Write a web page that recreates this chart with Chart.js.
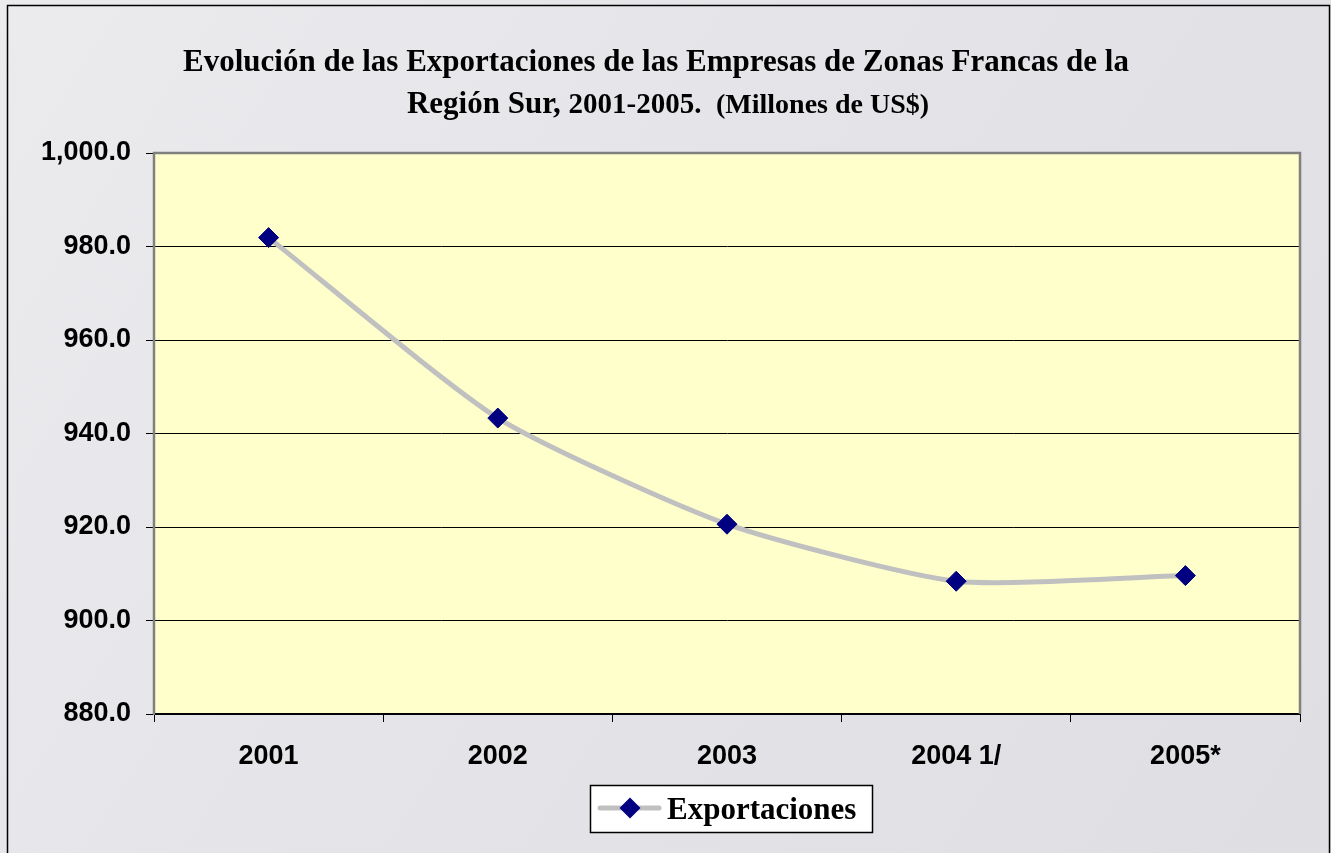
<!DOCTYPE html>
<html>
<head>
<meta charset="utf-8">
<script src="https://cdn.jsdelivr.net/npm/chart.js@4/dist/chart.umd.min.js"></script>
<style>
html,body{margin:0;padding:0;background:#e4e4e8;}
#wrap{width:1331px;height:853px;position:relative;}
</style>
</head>
<body>
<div id="wrap"><canvas id="c" width="1331" height="853"></canvas></div>
<script>
const categories = ['2001', '2002', '2003', '2004 1/', '2005*'];
const exportaciones = [981.9, 943.3, 920.6, 908.4, 909.6];
const seriesName = 'Exportaciones';
const yMin = 880, yMax = 1000, yStep = 20;
const titleLine1 = 'Evolución de las Exportaciones de las Empresas de Zonas Francas de la';
const titleLine2 = [['Región Sur, ', 31], ['2001-2005.  ', 29], ['(Millones de US$)', 28]];

const SERIF = '"Liberation Serif", "Times New Roman", serif';
const SANS = '"Liberation Sans", Arial, sans-serif';

const decorPlugin = {
  id: 'decor',
  beforeDraw(chart) {
    const ctx = chart.ctx;
    ctx.save();
    const g = ctx.createLinearGradient(0, 0, 1331, 853);
    g.addColorStop(0, '#ebebee');
    g.addColorStop(0.5, '#e4e4e8');
    g.addColorStop(1, '#dfdfe3');
    ctx.fillStyle = g;
    ctx.fillRect(0, 0, 1331, 853);
    ctx.strokeStyle = '#000';
    ctx.lineWidth = 1.5;
    ctx.strokeRect(7.5, 5.5, 1322, 852);
    const a = chart.chartArea;
    ctx.fillStyle = '#FFFFCC';
    ctx.fillRect(a.left, a.top, a.right - a.left, a.bottom - a.top);
    ctx.restore();
  },
  afterDraw(chart) {
    const ctx = chart.ctx;
    const a = chart.chartArea;
    ctx.save();
    ctx.strokeStyle = '#808080';
    ctx.lineWidth = 2.5;
    ctx.beginPath();
    ctx.moveTo(a.left, a.bottom);
    ctx.lineTo(a.left, a.top);
    ctx.lineTo(a.right, a.top);
    ctx.lineTo(a.right, a.bottom);
    ctx.stroke();
    // title
    ctx.fillStyle = '#000';
    ctx.textBaseline = 'alphabetic';
    ctx.textAlign = 'center';
    ctx.font = 'bold 31px ' + SERIF;
    ctx.fillText(titleLine1, 656, 71);
    let total = 0;
    titleLine2.forEach(([t, s]) => { ctx.font = 'bold ' + s + 'px ' + SERIF; total += ctx.measureText(t).width; });
    let x = 668 - total / 2;
    ctx.textAlign = 'left';
    titleLine2.forEach(([t, s]) => {
      ctx.font = 'bold ' + s + 'px ' + SERIF;
      ctx.fillText(t, x, 113);
      x += ctx.measureText(t).width;
    });
    // legend
    const lx = 590, ly = 785, lw = 282, lh = 47;
    ctx.fillStyle = '#fff';
    ctx.fillRect(lx, ly, lw, lh);
    ctx.strokeStyle = '#000';
    ctx.lineWidth = 1.5;
    ctx.strokeRect(lx + 0.5, ly + 0.5, lw, lh);
    const cy = 808;
    ctx.strokeStyle = '#C0C0C0';
    ctx.lineWidth = 5;
    ctx.lineCap = 'round';
    ctx.beginPath();
    ctx.moveTo(600, cy);
    ctx.lineTo(659, cy);
    ctx.stroke();
    ctx.fillStyle = '#000080';
    ctx.beginPath();
    const mx = 630, my = cy, r = 10.5;
    ctx.moveTo(mx, my - r); ctx.lineTo(mx + r, my); ctx.lineTo(mx, my + r); ctx.lineTo(mx - r, my); ctx.closePath();
    ctx.fill();
    ctx.fillStyle = '#000';
    ctx.font = 'bold 31px ' + SERIF;
    ctx.textBaseline = 'alphabetic';
    ctx.fillText(seriesName, 667, 819);
    ctx.restore();
  }
};

new Chart(document.getElementById('c'), {
  type: 'line',
  data: {
    labels: categories,
    datasets: [{
      label: seriesName,
      data: exportaciones,
      borderColor: '#C0C0C0',
      borderWidth: 5,
      tension: 0.2,
      pointStyle: 'rectRot',
      pointRadius: 10,
      pointHoverRadius: 10,
      pointBackgroundColor: '#000080',
      pointBorderColor: '#000080',
      pointBorderWidth: 1
    }]
  },
  options: {
    responsive: false,
    animation: false,
    devicePixelRatio: 1,
    layout: { padding: { left: 0, right: 31, top: 153, bottom: 0 } },
    plugins: { legend: { display: false }, title: { display: false }, tooltip: { enabled: false } },
    scales: {
      x: {
        offset: true,
        grid: { offset: true, drawOnChartArea: false, drawTicks: true, tickLength: 8, color: '#000', lineWidth: 1 },
        border: { color: '#000', width: 2 },
        ticks: { color: '#000', font: { family: SANS, size: 27, weight: 'bold' }, padding: 18, maxRotation: 0 },
        afterFit(s) { s.height = 139; }
      },
      y: {
        min: yMin, max: yMax,
        grid: { color: '#000', lineWidth: 1, drawTicks: true, tickLength: 8 },
        border: { color: '#808080', width: 2 },
        ticks: {
          stepSize: yStep, color: '#000', padding: 15,
          font: { family: SANS, size: 27, weight: 'bold' },
          callback: v => Number(v).toLocaleString('en-US', { minimumFractionDigits: 1, maximumFractionDigits: 1 })
        },
        afterFit(s) { s.width = 154; }
      }
    }
  },
  plugins: [decorPlugin]
});
</script>
</body>
</html>
